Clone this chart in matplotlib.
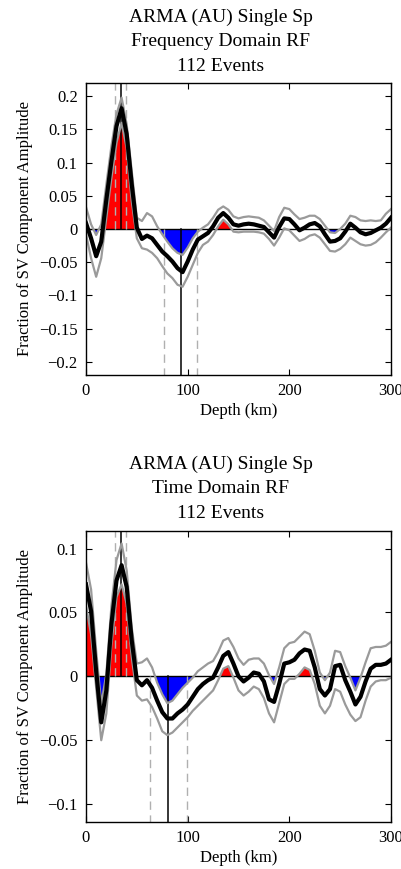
import numpy as np
import matplotlib
matplotlib.use("Agg")
import matplotlib.pyplot as plt

plt.rcParams['font.family'] = ['Liberation Serif', 'DejaVu Serif']

# depth samples (km)
depth = np.arange(0, 305, 5)

# Frequency domain RF: mean and bounds
freq_mean = [0.009, -0.014, -0.041, -0.019, 0.044, 0.102, 0.155, 0.182, 0.143, 0.067,
             0.002, -0.015, -0.010, -0.014, -0.024, -0.034, -0.041, -0.049, -0.059, -0.065,
             -0.049, -0.031, -0.016, -0.011, -0.006, 0.004, 0.017, 0.024, 0.017, 0.007,
             0.005, 0.007, 0.008, 0.007, 0.005, 0.003, -0.005, -0.013, 0.003, 0.016,
             0.015, 0.007, -0.002, 0.002, 0.007, 0.009, 0.004, -0.008, -0.019, -0.018,
             -0.014, -0.004, 0.008, 0.002, -0.005, -0.008, -0.006, -0.002, 0.002, 0.008,
             0.017]
freq_upper = [0.033, 0.007, -0.009, 0.007, 0.067, 0.125, 0.173, 0.198, 0.158, 0.087,
              0.017, 0.012, 0.024, 0.019, 0.004, -0.008, -0.019, -0.029, -0.036, -0.039,
              -0.028, -0.014, -0.004, 0.002, 0.007, 0.017, 0.029, 0.034, 0.029, 0.019,
              0.016, 0.018, 0.019, 0.018, 0.017, 0.013, 0.005, -0.003, 0.018, 0.032,
              0.030, 0.022, 0.015, 0.017, 0.020, 0.020, 0.015, 0.005, -0.005, -0.006,
              0.000, 0.008, 0.020, 0.018, 0.013, 0.012, 0.013, 0.012, 0.013, 0.023,
              0.030]
freq_lower = [-0.008, -0.044, -0.072, -0.044, 0.017, 0.077, 0.130, 0.160, 0.122, 0.042,
              -0.014, -0.029, -0.031, -0.036, -0.044, -0.056, -0.067, -0.074, -0.084, -0.087,
              -0.072, -0.054, -0.036, -0.024, -0.019, -0.009, 0.004, 0.014, 0.007, -0.004,
              -0.005, -0.004, -0.004, -0.004, -0.005, -0.007, -0.015, -0.025, -0.013, 0.001,
              -0.002, -0.010, -0.018, -0.015, -0.010, -0.008, -0.013, -0.023, -0.033, -0.034,
              -0.030, -0.023, -0.013, -0.018, -0.023, -0.025, -0.024, -0.020, -0.013, -0.005,
              0.002]

# Time domain RF: mean and bounds
time_mean = [0.072, 0.051, 0.004, -0.036, -0.011, 0.041, 0.075, 0.087, 0.070, 0.028,
             -0.003, -0.007, -0.003, -0.009, -0.019, -0.028, -0.033, -0.033, -0.029, -0.026,
             -0.022, -0.016, -0.010, -0.006, -0.003, -0.001, 0.007, 0.016, 0.019, 0.010,
             0.000, -0.004, -0.001, 0.003, 0.002, -0.004, -0.018, -0.020, -0.006, 0.010,
             0.011, 0.013, 0.018, 0.021, 0.020, 0.007, -0.010, -0.015, -0.010, 0.008,
             0.009, -0.003, -0.012, -0.022, -0.016, -0.004, 0.006, 0.009, 0.009, 0.010,
             0.013]
time_upper = [0.089, 0.068, 0.020, -0.022, 0.002, 0.055, 0.091, 0.104, 0.083, 0.038,
              0.010, 0.011, 0.014, 0.007, -0.005, -0.014, -0.021, -0.019, -0.014, -0.009,
              -0.005, -0.001, 0.004, 0.007, 0.010, 0.012, 0.019, 0.028, 0.030, 0.023,
              0.014, 0.009, 0.013, 0.014, 0.014, 0.010, 0.001, -0.006, 0.007, 0.022,
              0.026, 0.027, 0.031, 0.035, 0.033, 0.020, 0.003, -0.003, 0.003, 0.020,
              0.019, 0.008, -0.001, -0.011, -0.001, 0.011, 0.022, 0.023, 0.023, 0.024,
              0.027]
time_lower = [0.055, 0.033, -0.009, -0.050, -0.029, 0.025, 0.062, 0.072, 0.057, 0.015,
              -0.015, -0.019, -0.018, -0.024, -0.033, -0.043, -0.046, -0.044, -0.040, -0.036,
              -0.032, -0.027, -0.023, -0.019, -0.015, -0.011, -0.003, 0.006, 0.008, -0.001,
              -0.011, -0.015, -0.012, -0.008, -0.010, -0.017, -0.029, -0.036, -0.021, -0.006,
              -0.002, -0.002, 0.002, 0.007, 0.005, -0.006, -0.023, -0.029, -0.023, -0.010,
              -0.012, -0.022, -0.030, -0.035, -0.032, -0.019, -0.008, -0.004, -0.003, -0.003,
              -0.001]

# picked peaks: (depth, lower bound, upper bound)
freq_pos_pick = [34, 28.5, 39.5]
freq_neg_pick = [93, 77, 109]
time_pos_pick = [34, 28.5, 39.5]
time_neg_pick = [81, 63, 99]

titles = [["ARMA (AU) Single Sp", "Frequency Domain RF", "112 Events"],
          ["ARMA (AU) Single Sp", "Time Domain RF", "112 Events"]]

W, H = 402, 869
fig = plt.figure(figsize=(W / 100, H / 100), dpi=100)


def draw_panel(rect, mean, upper, lower, pos_pick, neg_pick, ylim, yticks, ylabels, title, title_base):
    ax = fig.add_axes(rect)
    mean = np.array(mean)
    upper = np.array(upper)
    lower = np.array(lower)
    ax.fill_between(depth, 0, lower, where=lower > 0, interpolate=True, color='#ff0000', lw=0)
    ax.fill_between(depth, upper, 0, where=upper < 0, interpolate=True, color='#0000ff', lw=0)
    ax.axhline(0, color='k', lw=1.0)
    # picks
    ax.plot([pos_pick[1]] * 2, [0, ylim], color='#b0b0b0', lw=1.0, dashes=(6, 4))
    ax.plot([pos_pick[2]] * 2, [0, ylim], color='#b0b0b0', lw=1.0, dashes=(6, 4))
    ax.plot([neg_pick[1]] * 2, [0, -ylim], color='#b0b0b0', lw=1.0, dashes=(6, 4))
    ax.plot([neg_pick[2]] * 2, [0, -ylim], color='#b0b0b0', lw=1.0, dashes=(6, 4))
    ax.plot([pos_pick[0]] * 2, [0, ylim], color='k', lw=1.1)
    ax.plot([neg_pick[0]] * 2, [0, -ylim], color='k', lw=1.1)
    ax.plot(depth, upper, color='#9a9a9a', lw=1.6)
    ax.plot(depth, lower, color='#9a9a9a', lw=1.6)
    ax.plot(depth, mean, color='k', lw=3.0)
    ax.set_xlim(0, 300)
    ax.set_ylim(-ylim, ylim)
    ax.set_xticks([0, 100, 200, 300])
    ax.set_yticks(yticks)
    ax.set_yticklabels(ylabels)
    ax.tick_params(direction='in', length=4, width=0.8, top=True, right=True,
                   labelsize=12, color='k')
    ax.tick_params(axis='x', pad=6)
    ax.tick_params(axis='y', pad=6)
    for s in ax.spines.values():
        s.set_linewidth(1.0)
    ax.set_xlabel("Depth (km)", fontsize=12, va='baseline')
    ax.xaxis.set_label_coords(0.5, -0.137)
    ax.set_ylabel("Fraction of SV Component Amplitude", fontsize=12, va='center')
    ax.yaxis.set_label_coords(-0.2, 0.5)
    for i, line in enumerate(title):
        fig.text(221 / W, 1 - (title_base + 24.5 * i) / H, line, ha='center',
                 va='baseline', fontsize=14)
    return ax


draw_panel([86 / W, 1 - 375 / H, 305 / W, 292 / H], freq_mean, freq_upper, freq_lower,
           freq_pos_pick, freq_neg_pick, 0.22,
           [-0.2, -0.15, -0.1, -0.05, 0, 0.05, 0.1, 0.15, 0.2],
           ["\u22120.2", "\u22120.15", "\u22120.1", "\u22120.05", "0", "0.05", "0.1", "0.15", "0.2"],
           titles[0], 22)
draw_panel([86 / W, 1 - 822 / H, 305 / W, 291.3 / H], time_mean, time_upper, time_lower,
           time_pos_pick, time_neg_pick, 0.114,
           [-0.1, -0.05, 0, 0.05, 0.1],
           ["\u22120.1", "\u22120.05", "0", "0.05", "0.1"],
           titles[1], 468.5)

fig.savefig("out.png", dpi=100)
